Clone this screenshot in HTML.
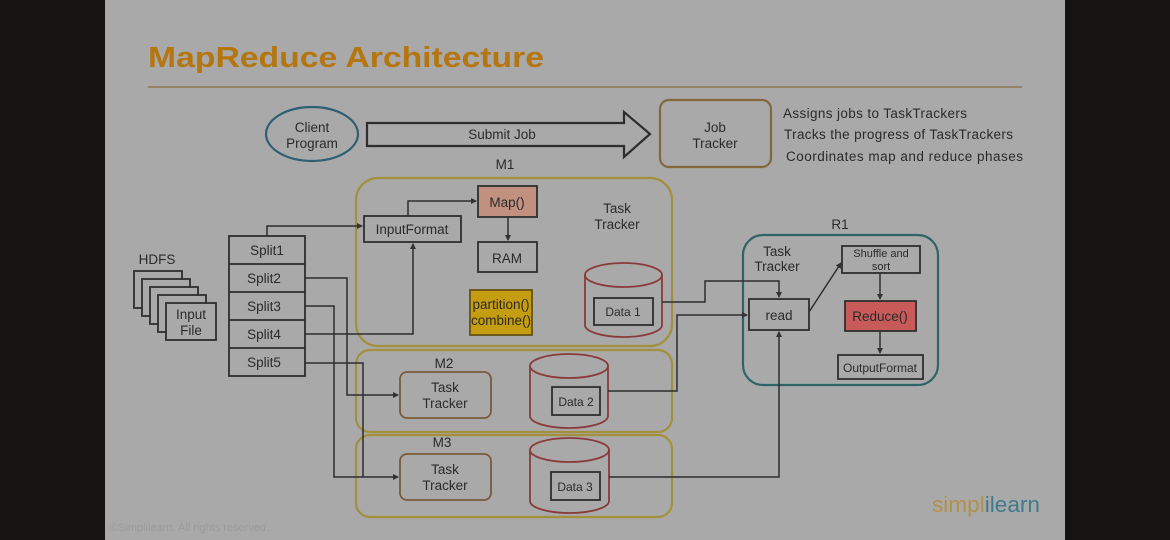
<!DOCTYPE html>
<html><head><meta charset="utf-8"><style>
html,body{margin:0;padding:0;background:#151412;}
svg{display:block;font-family:"Liberation Sans",sans-serif;}
</style></head><body>
<svg width="1170" height="540" viewBox="0 0 1170 540" xmlns="http://www.w3.org/2000/svg">
<defs>
<marker id="a" markerWidth="6" markerHeight="6" refX="5" refY="3" orient="auto" markerUnits="userSpaceOnUse"><path d="M0,0 L6,3 L0,6 z" fill="#333"/></marker>
</defs>
<rect x="0" y="0" width="1170" height="540" fill="#151412"/>
<rect x="105" y="0" width="960" height="540" fill="#a9a9a9"/>
<text x="148" y="67" font-size="29" font-weight="bold" fill="#b5760f" textLength="396" lengthAdjust="spacingAndGlyphs">MapReduce Architecture</text>
<line x1="148" y1="87" x2="1022" y2="87" stroke="#8f7650" stroke-width="1.5"/>
<g fill="none" stroke="#2e2e2e" stroke-width="1.8" font-size="13">
<ellipse cx="312" cy="134" rx="46" ry="27" stroke="#2f5f73" stroke-width="2.2"/>
<path d="M367,123 L624,123 L624,112 L650,134 L624,157 L624,146 L367,146 Z" stroke-width="2.2"/>
<rect x="660" y="100" width="111" height="67" rx="9" stroke="#85683a" stroke-width="2.2"/>
<rect x="356" y="178" width="316" height="168" rx="22" stroke="#a3903c" stroke-width="2.2"/>
<rect x="356" y="350" width="316" height="82" rx="14" stroke="#a3903c" stroke-width="2.2"/>
<rect x="356" y="435" width="316" height="82" rx="14" stroke="#a3903c" stroke-width="2.2"/>
<rect x="478" y="186" width="59" height="31" fill="#c2907f"/>
<rect x="478" y="242" width="59" height="30"/>
<rect x="364" y="216" width="97" height="26"/>
<rect x="470" y="290" width="62" height="45" fill="#c59d10" stroke="#665010"/>
<rect x="229" y="236" width="76" height="140"/>
<line x1="229" y1="264" x2="305" y2="264"/><line x1="229" y1="292" x2="305" y2="292"/><line x1="229" y1="320" x2="305" y2="320"/><line x1="229" y1="348" x2="305" y2="348"/>
<g fill="#a9a9a9">
<rect x="134" y="271" width="48" height="37"/><rect x="142" y="279" width="48" height="37"/><rect x="150" y="287" width="48" height="37"/><rect x="158" y="295" width="48" height="37"/><rect x="166" y="303" width="50" height="37"/>
</g>
<g stroke="#8a3a3a">
<path d="M585,275 L585,325 A38.5,12 0 0 0 662,325 L662,275"/><ellipse cx="623.5" cy="275" rx="38.5" ry="12"/>
<path d="M530,366 L530,416 A39,12 0 0 0 608,416 L608,366"/><ellipse cx="569" cy="366" rx="39" ry="12"/>
<path d="M530,450 L530,501 A39.5,12 0 0 0 609,501 L609,450"/><ellipse cx="569.5" cy="450" rx="39.5" ry="12"/>
</g>
<rect x="594" y="298" width="59" height="27"/>
<rect x="552" y="387" width="48" height="28"/>
<rect x="551" y="472" width="49" height="28"/>
<rect x="400" y="372" width="91" height="46" rx="7" stroke="#7a5a3a"/>
<rect x="400" y="454" width="91" height="46" rx="7" stroke="#7a5a3a"/>
<rect x="743" y="235" width="195" height="150" rx="20" stroke="#2e6468" stroke-width="2.2"/>
<rect x="749" y="299" width="60" height="31"/>
<rect x="842" y="246" width="78" height="27"/>
<rect x="845" y="301" width="71" height="30" fill="#c85a5a"/>
<rect x="838" y="355" width="85" height="24"/>
<g stroke-width="1.5">
<path d="M267,236 L267,226 L362,226" marker-end="url(#a)"/>
<path d="M408,216 L408,201 L476,201" marker-end="url(#a)"/>
<path d="M508,217 L508,240" marker-end="url(#a)"/>
<path d="M305,334 L413,334 L413,244" marker-end="url(#a)"/>
<path d="M305,278 L347,278 L347,395 L398,395" marker-end="url(#a)"/>
<path d="M305,306 L334,306 L334,477 L398,477" marker-end="url(#a)"/>
<path d="M305,363 L363,363 L363,477"/>
<path d="M662,302 L705,302 L705,281 L779,281 L779,297" marker-end="url(#a)"/>
<path d="M608,391 L677,391 L677,315 L747,315" marker-end="url(#a)"/>
<path d="M609,477 L779,477 L779,332" marker-end="url(#a)"/>
<path d="M809,312 L841,263" marker-end="url(#a)"/>
<path d="M880,273 L880,299" marker-end="url(#a)"/>
<path d="M880,331 L880,353" marker-end="url(#a)"/>
</g>
</g>
<g font-size="13.5" fill="#2a2a2a" text-anchor="middle">
<text x="312" y="132">Client</text><text x="312" y="148">Program</text>
<text x="502" y="139">Submit Job</text>
<text x="715" y="132">Job</text><text x="715" y="148">Tracker</text>
<text x="505" y="169">M1</text>
<text x="507" y="207">Map()</text>
<text x="507" y="263">RAM</text>
<text x="412" y="234">InputFormat</text>
<text x="617" y="213">Task</text><text x="617" y="229">Tracker</text>
<text x="501" y="309">partition()</text><text x="501" y="325">combine()</text>
<text x="623" y="316" font-size="12">Data 1</text>
<text x="576" y="406" font-size="12">Data 2</text>
<text x="575" y="491" font-size="12">Data 3</text>
<text x="267" y="255">Split1</text><text x="264" y="283">Split2</text><text x="264" y="311">Split3</text><text x="264" y="339">Split4</text><text x="264" y="367">Split5</text>
<text x="157" y="264">HDFS</text>
<text x="191" y="319">Input</text><text x="191" y="335">File</text>
<text x="444" y="368">M2</text>
<text x="445" y="392">Task</text><text x="445" y="408">Tracker</text>
<text x="442" y="447">M3</text>
<text x="445" y="474">Task</text><text x="445" y="490">Tracker</text>
<text x="840" y="229">R1</text>
<text x="777" y="256">Task</text><text x="777" y="271">Tracker</text>
<text x="779" y="320">read</text>
<text x="881" y="257" font-size="11">Shuffle and</text><text x="881" y="270" font-size="11">sort</text>
<text x="880" y="321">Reduce()</text>
<text x="880" y="372" font-size="12">OutputFormat</text>
</g>
<g font-size="13.5" fill="#2a2a2a">
<text x="783" y="118" textLength="184">Assigns jobs to TaskTrackers</text>
<text x="784" y="139" textLength="229">Tracks the progress of TaskTrackers</text>
<text x="786" y="161" textLength="237">Coordinates map and reduce phases</text>
</g>
<text x="110" y="531" font-size="11" fill="#9c9c9c">©Simplilearn. All rights reserved.</text>
<text x="932" y="512" font-size="22" fill="#b3904a" textLength="108" lengthAdjust="spacingAndGlyphs">simpl<tspan fill="#3e7b8c">i</tspan><tspan fill="#3e7b8c">learn</tspan></text>
</svg>
</body></html>
